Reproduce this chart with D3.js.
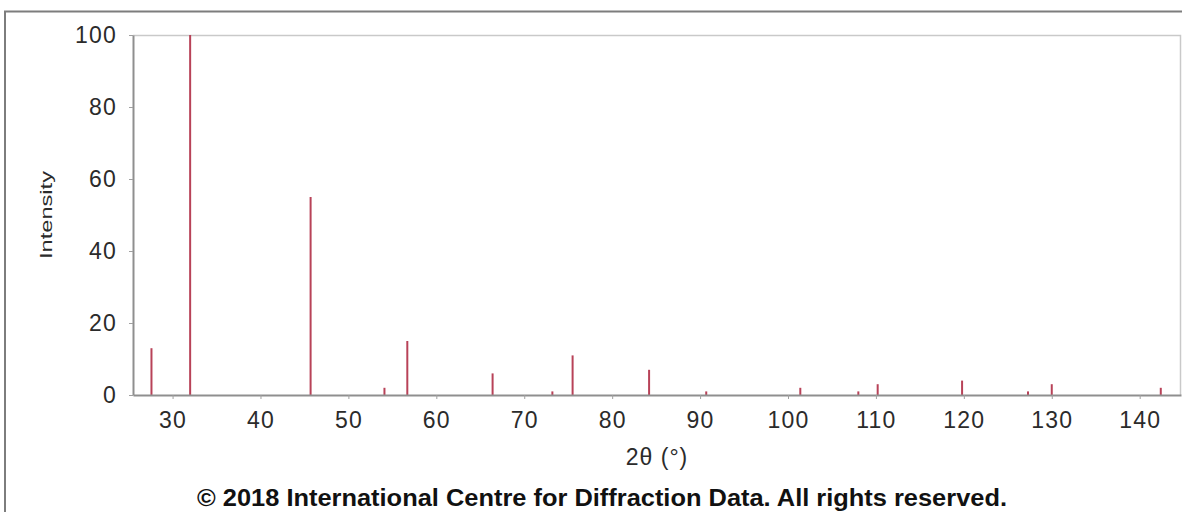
<!DOCTYPE html>
<html>
<head>
<meta charset="utf-8">
<script src="https://cdn.jsdelivr.net/npm/d3@7"></script>
<style>
  html, body { margin: 0; padding: 0; background: #fff; }
  svg { display: block; }
  .tick text { font-family: "Liberation Sans", Arial, sans-serif; font-size: 23px; fill: #2b2b2b; letter-spacing: 1.2px; }
</style>
</head>
<body>
<svg id="chart" width="1182" height="512"></svg>
<script>
// Stick pattern: peak positions (2θ, degrees) and relative intensities
const twoTheta  = [27.6, 32.0, 45.7, 54.1, 56.7, 66.4, 73.2, 75.5, 84.2, 90.7, 101.4, 108.0, 110.2, 119.8, 127.3, 130.0, 142.4];
const intensity = [13, 100, 55, 2, 15, 6, 1, 11, 7, 1, 2, 1, 3, 4, 1, 3, 2];

const xTickValues = [30, 40, 50, 60, 70, 80, 90, 100, 110, 120, 130, 140];
const yTickValues = [0, 20, 40, 60, 80, 100];

const xTitle = "2θ (°)";
const yTitle = "Intensity";
const footer = "© 2018 International Centre for Diffraction Data. All rights reserved.";

const svg = d3.select("#chart");
const plot = { left: 133, right: 1181, top: 35, bottom: 395 };

const x = d3.scaleLinear().domain([25.5, 144.7]).range([plot.left, plot.right]);
const y = d3.scaleLinear().domain([0, 100]).range([plot.bottom, plot.top]);

// outer frame
svg.append("rect")
  .attr("x", 5).attr("y", 11.5)
  .attr("width", 1200).attr("height", 520)
  .attr("fill", "none").attr("stroke", "#7d7d7d").attr("stroke-width", 2);

// plot frame: light top/right edges
svg.append("path")
  .attr("d", `M${plot.left},${plot.top + 0.5}H${plot.right - 0.5}V${plot.bottom}`)
  .attr("fill", "none").attr("stroke", "#c9c9c9").attr("stroke-width", 1.5);

// peaks
const peaks = twoTheta.map((t, i) => ({ t, v: intensity[i] }));
svg.append("g").selectAll("line").data(peaks).join("line")
  .attr("x1", d => x(d.t)).attr("x2", d => x(d.t))
  .attr("y1", y(0)).attr("y2", d => y(d.v))
  .attr("stroke", "#b84258").attr("stroke-width", 2);

// axes
const xAxis = svg.append("g")
  .attr("transform", `translate(0,${plot.bottom})`)
  .call(d3.axisBottom(x).tickValues(xTickValues).tickSize(4).tickPadding(12).tickSizeOuter(0));
const yAxis = svg.append("g")
  .attr("transform", `translate(${plot.left},0)`)
  .call(d3.axisLeft(y).tickValues(yTickValues).tickSize(4).tickPadding(12).tickSizeOuter(0));

[xAxis, yAxis].forEach(g => {
  g.select(".domain").attr("stroke", "#8f8f8f").attr("stroke-width", 2);
  g.selectAll(".tick line").attr("stroke", "#a0a0a0");
});
xAxis.selectAll(".tick text").attr("dy", "0.72em");

// axis titles
svg.append("text")
  .attr("x", (plot.left + plot.right) / 2).attr("y", 465)
  .attr("text-anchor", "middle")
  .attr("font-family", "Liberation Sans, Arial, sans-serif")
  .attr("font-size", 23).attr("letter-spacing", "1px").attr("fill", "#2b2b2b")
  .text(xTitle);

svg.append("text")
  .attr("transform", `translate(52,${(plot.top + plot.bottom) / 2}) rotate(-90)`)
  .attr("text-anchor", "middle")
  .attr("font-family", "Liberation Sans, Arial, sans-serif")
  .attr("font-size", 17).attr("fill", "#2b2b2b")
  .attr("textLength", 88).attr("lengthAdjust", "spacingAndGlyphs")
  .text(yTitle);

// footer
svg.append("text")
  .attr("x", 602).attr("y", 506)
  .attr("text-anchor", "middle")
  .attr("font-family", "Liberation Sans, Arial, sans-serif")
  .attr("font-size", 23).attr("font-weight", "bold").attr("fill", "#111")
  .attr("textLength", 810).attr("lengthAdjust", "spacingAndGlyphs")
  .text(footer);
</script>
</body>
</html>
